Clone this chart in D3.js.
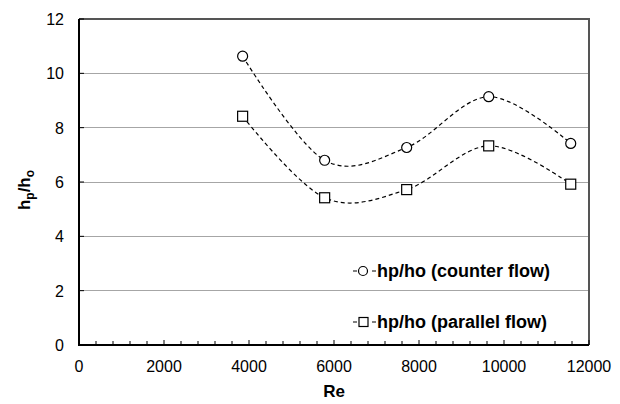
<!DOCTYPE html>
<html><head><meta charset="utf-8">
<script src="https://cdn.jsdelivr.net/npm/d3@7"></script>
<style>body{margin:0;background:#fff}svg{display:block;font-family:"Liberation Sans",Arial,sans-serif}</style>
</head><body><svg id="c" width="620" height="404"></svg>
<script>
const reValues = [3850, 5780, 7710, 9640, 11570];
const counterFlow = [10.63, 6.8, 7.27, 9.14, 7.42];
const parallelFlow = [8.42, 5.42, 5.72, 7.33, 5.92];
const seriesNames = ["hp/ho (counter flow)", "hp/ho (parallel flow)"];
const xTicks = [0, 2000, 4000, 6000, 8000, 10000, 12000];
const yTicks = [0, 2, 4, 6, 8, 10, 12];

const svg = d3.select("#c");
const L = 79, R = 589, T = 19, B = 345;
const x = d3.scaleLinear().domain([0, 12000]).range([L, R]);
const y = d3.scaleLinear().domain([0, 12]).range([B, T]);

// gridlines
svg.append("g").selectAll("line").data(yTicks.filter(d => d > 0 && d < 12)).join("line")
  .attr("x1", L).attr("x2", R).attr("y1", d => y(d)).attr("y2", d => y(d))
  .attr("stroke", "#a6a6a6").attr("stroke-width", 1).attr("shape-rendering", "crispEdges");

// top & right border
svg.append("path").attr("d", `M${L},${T}H${R}V${B}`).attr("fill", "none")
  .attr("stroke", "#555").attr("stroke-width", 2);

// x axis minor ticks
const minor = d3.range(0, 12001, 400);
svg.append("g").selectAll("line").data(minor).join("line")
  .attr("x1", d => x(d)).attr("x2", d => x(d))
  .attr("y1", B).attr("y2", d => d % 2000 === 0 ? B - 5 : B - 4)
  .attr("stroke", "#000").attr("stroke-width", 1);
// y axis ticks
svg.append("g").selectAll("line").data(yTicks).join("line")
  .attr("x1", L).attr("x2", L + 5).attr("y1", d => y(d)).attr("y2", d => y(d))
  .attr("stroke", "#000").attr("stroke-width", 1);

// axes lines
svg.append("path").attr("d", `M${L},${T}V${B}H${R}`).attr("fill", "none")
  .attr("stroke", "#000").attr("stroke-width", 2);

// tick labels
svg.append("g").selectAll("text").data(xTicks).join("text")
  .attr("x", d => x(d)).attr("y", 372).attr("text-anchor", "middle")
  .attr("font-size", 16).attr("fill", "#000").text(d => d);
svg.append("g").selectAll("text").data(yTicks).join("text")
  .attr("x", 64).attr("y", d => y(d) + 6).attr("text-anchor", "end")
  .attr("font-size", 16).attr("fill", "#000").text(d => d);

// axis titles
svg.append("text").attr("x", x(6000)).attr("y", 397).attr("text-anchor", "middle")
  .attr("font-size", 17).attr("font-weight", "bold").text("Re");
const yl = svg.append("text").attr("transform", `translate(30,190) rotate(-90)`)
  .attr("text-anchor", "middle").attr("font-size", 17).attr("font-weight", "bold");
yl.append("tspan").text("h");
yl.append("tspan").attr("font-size", 12).attr("dy", 4).text("p");
yl.append("tspan").attr("dy", -4).text("/h");
yl.append("tspan").attr("font-size", 12).attr("dy", 4).text("o");

// series
const line = d3.line().x(d => x(d[0])).y(d => y(d[1])).curve(d3.curveCardinal.tension(0));
const series = [counterFlow, parallelFlow];
series.forEach((vals, i) => {
  const pts = reValues.map((r, j) => [r, vals[j]]);
  svg.append("path").attr("d", line(pts)).attr("fill", "none")
    .attr("stroke", "#000").attr("stroke-width", 1.2).attr("stroke-dasharray", "4,3");
  const g = svg.append("g");
  if (i === 0) {
    g.selectAll("circle").data(pts).join("circle")
      .attr("cx", d => x(d[0])).attr("cy", d => y(d[1])).attr("r", 5)
      .attr("fill", "#fff").attr("stroke", "#000").attr("stroke-width", 1.2);
  } else {
    g.selectAll("rect").data(pts).join("rect")
      .attr("x", d => x(d[0]) - 5).attr("y", d => y(d[1]) - 5).attr("width", 10).attr("height", 10)
      .attr("fill", "#fff").attr("stroke", "#000").attr("stroke-width", 1.2);
  }
});

// legend
const legY = [271, 322];
seriesNames.forEach((name, i) => {
  const cy = legY[i];
  svg.append("line").attr("x1", 353).attr("x2", 376).attr("y1", cy).attr("y2", cy)
    .attr("stroke", "#000").attr("stroke-width", 1.2).attr("stroke-dasharray", "4,15");
  if (i === 0) {
    svg.append("circle").attr("cx", 363).attr("cy", cy).attr("r", 4.5)
      .attr("fill", "#fff").attr("stroke", "#000").attr("stroke-width", 1.2);
  } else {
    svg.append("rect").attr("x", 359).attr("y", cy - 4.5).attr("width", 9).attr("height", 9)
      .attr("fill", "#fff").attr("stroke", "#000").attr("stroke-width", 1.2);
  }
  svg.append("text").attr("x", 377).attr("y", cy + 6).attr("font-size", 18)
    .attr("font-weight", "bold").text(name);
});
</script></body></html>
